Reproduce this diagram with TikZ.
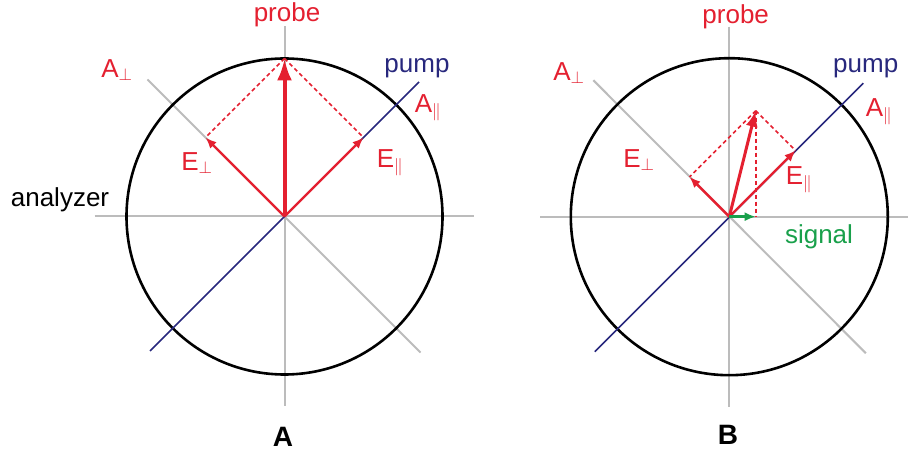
\documentclass[tikz,border=0pt]{standalone}
\usepackage{fontspec}
\setmainfont{Liberation Sans}
\usetikzlibrary{arrows.meta}
\definecolor{probered}{RGB}{228,32,48}
\definecolor{pumpblue}{RGB}{40,40,125}
\definecolor{signalgreen}{RGB}{25,160,75}
\definecolor{axisgray}{RGB}{188,188,188}
\begin{document}
\begin{tikzpicture}[x=1pt, y=1pt,
  every node/.style={font=\fontsize{26}{30}\selectfont, inner sep=0pt},
  axis/.style={axisgray, line width=2pt},
  pumpline/.style={pumpblue, line width=1.6pt},
  rim/.style={black, line width=2.6pt},
  comp/.style={probered, line width=2.4pt, -{Latex[length=11pt,width=9pt]}},
  bigvec/.style={probered, line width=4pt, -{Latex[length=22pt,width=15pt]}},
  proj/.style={probered, line width=1.6pt, dash pattern=on 4pt off 3pt},
  lbl/.style={text=probered},
  panel/.style={font=\bfseries\fontsize{28}{30}\selectfont}]
\useasboundingbox (0,0) rectangle (908,455);

% panel A
\begin{scope}[shift={(284.5,238.5)}]
\coordinate (a-O) at (0,0);
\coordinate (a-n) at (0,190);
\coordinate (a-s) at (0,-190);
\coordinate (a-w) at (-190,0);
\coordinate (a-e) at (189,0);
\coordinate (a-nw) at (-137,137);
\coordinate (a-se) at (136,-136);
\coordinate (a-sw) at (-134.5,-134.5);
\coordinate (a-ne) at (134.5,134.5);
\coordinate (a-P) at (0,158);
\coordinate (a-Eperp) at (-79,79);
\coordinate (a-Epar) at (79,79);

\draw[axis] (a-n) -- (a-s);
\draw[axis] (a-w) -- (a-e);
\draw[axis] (a-nw) -- (a-se);
\draw[rim] (a-O) circle (158);
\draw[pumpline] (a-sw) -- (a-ne);

\draw[proj] (a-P) -- (a-Eperp);
\draw[proj] (a-P) -- (a-Epar);
\draw[comp] (a-O) -- (a-Eperp);
\draw[comp] (a-O) -- (a-Epar);
\draw[bigvec] (a-O) -- (a-P);

\node[lbl] (a-probe) at (2.5,201.5) {probe};
\node[lbl] (a-Aperp) at (-167.5,146.5) {A$_\perp$};
\node[text=pumpblue] (a-pump) at (132.5,148.5) {pump};
\node[lbl] (a-Apar) at (143.5,108.5) {A$_\parallel$};
\node[lbl] (a-Eperp-l) at (-87.5,53.5) {E$_\perp$};
\node[lbl] (a-Epar-l) at (105.5,53.5) {E$_\parallel$};
\node (a-analyzer) at (-224.5,16.5) {analyzer};
\node[panel] (a-title) at (-1.5,-220.5) {A};
\end{scope}

% panel B
\begin{scope}[shift={(729.3,238.3)}]
\coordinate (b-O) at (0,0);
\coordinate (b-n) at (0,190);
\coordinate (b-s) at (0,-190);
\coordinate (b-w) at (-189,0);
\coordinate (b-e) at (190,0);
\coordinate (b-nw) at (-136,136.5);
\coordinate (b-se) at (136.5,-136.5);
\coordinate (b-sw) at (-134.5,-135);
\coordinate (b-ne) at (134,133.5);
\coordinate (b-P) at (26.4,106);
\coordinate (b-Eperp) at (-39.8,39.8);
\coordinate (b-Epar) at (66.2,66.2);
\coordinate (b-S) at (26.4,0);

\draw[axis] (b-n) -- (b-s);
\draw[axis] (b-w) -- (b-e);
\draw[axis] (b-nw) -- (b-se);
\draw[rim] (b-O) circle (158.5);
\draw[pumpline] (b-sw) -- (b-ne);

\draw[proj] (b-P) -- (b-Eperp);
\draw[proj] (b-P) -- (b-Epar);
\draw[proj] (b-P) -- (b-S);
\draw[comp] (b-O) -- (b-Eperp);
\draw[comp] (b-O) -- (b-Epar);
\draw[comp, line width=3pt, -{Latex[length=16pt,width=12pt]}] (b-O) -- (b-P);
\draw[signalgreen, line width=2.4pt, -{Latex[length=11pt,width=9pt]}] (b-O) -- (b-S);

\node[lbl] (b-probe) at (6.4,199.7) {probe};
\node[lbl] (b-Aperp) at (-160.3,143.7) {A$_\perp$};
\node[text=pumpblue] (b-pump) at (136.4,148.7) {pump};
\node[lbl] (b-Apar) at (149.7,104.7) {A$_\parallel$};
\node[lbl] (b-Eperp-l) at (-90.3,56.7) {E$_\perp$};
\node[lbl] (b-Epar-l) at (69.7,36.7) {E$_\parallel$};
\node[text=signalgreen] (b-signal) at (89.7,-20.3) {signal};
\node[panel] (b-title) at (-1.3,-218.3) {B};
\end{scope}
\end{tikzpicture}
\end{document}
